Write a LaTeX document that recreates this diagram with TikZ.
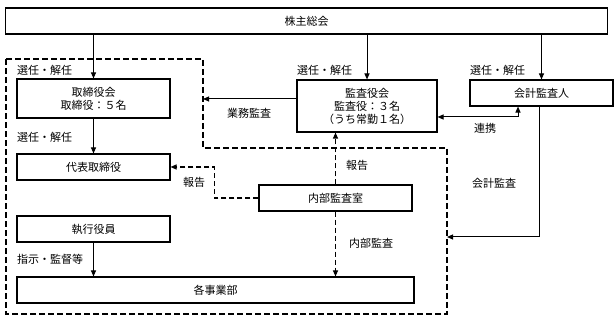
\documentclass[tikz,border=0pt]{standalone}
\usepackage{fontspec}
\setmainfont{Noto Sans CJK JP}
\usetikzlibrary{arrows.meta,positioning,calc}
\newcommand{\jpfont}{\fontsize{11pt}{13pt}\selectfont}
\tikzset{
  >={Triangle[length=6pt,width=5pt]},
  font=\jpfont,
  orgbox/.style={draw, line width=1.1pt, inner sep=0pt, align=center},
  arr/.style={->, line width=1pt},
  darr/.style={->, line width=1.1pt, dash pattern=on 5pt off 3pt},
  lbl/.style={inner sep=0pt},
}

\begin{document}
\begin{tikzpicture}[x=1pt, y=-1pt,
    region/.style={line width=1.8pt, dash pattern=on 6pt off 3pt}
  ]
  \useasboundingbox (0,0) rectangle (616,320);
  % boxes
  \node[orgbox, minimum width=602pt, minimum height=26pt] (soukai) at (306.5,21) {株主総会};
  \node[orgbox, minimum width=153pt, minimum height=39pt] (torikai) at (93.5,98.5) {取締役会\\取締役：５名};
  \node[orgbox, minimum width=153pt, minimum height=26pt] (daihyo) at (93.5,167) {代表取締役};
  \node[orgbox, minimum width=153pt, minimum height=26pt] (shikko) at (93.5,229) {執行役員};
  \node[orgbox, minimum width=397pt, minimum height=26pt] (jigyo) at (215.5,290) {各事業部};
  \node[orgbox, minimum width=153pt, minimum height=26pt] (naibu) at (335.5,198) {内部監査室};
  \node[orgbox, minimum width=140pt, minimum height=52pt] (kansa) at (367,106) {監査役会\\監査役：３名\\（うち常勤１名）};
  \node[orgbox, minimum width=143pt, minimum height=26pt] (kaikei) at (541.5,93) {会計監査人};
  % dashed region (executive side)
  \draw[region] (6,59) -- (203,59) -- (203,148) -- (447,148) -- (447,314) -- (6,314) -- cycle;
  \coordinate (bdL) at (203,99);
  \coordinate (bdR) at (447,237);
  % appointments
  \foreach \b in {torikai,kansa,kaikei}
    \draw[arr] (soukai.south -| \b.north) -- (\b.north);
  \draw[arr] (torikai) -- (daihyo);
  \draw[arr] (shikko.south) -- (shikko.south |- jigyo.north);
  % audits
  \draw[arr] ([yshift=7pt]kansa.west) -- (bdL);
  \draw[arr, <->] ([yshift=-11pt]kansa.east) -| ([xshift=-23.5pt]kaikei.south);
  \draw[arr] ([xshift=-2.5pt]kaikei.south) |- (bdR);
  % internal audit
  \draw[darr] (naibu.north) -- (naibu.north |- kansa.south);
  \draw[darr] (naibu.west) -- ++(-44,0) |- (daihyo.east);
  \draw[darr] (naibu.south) -- (naibu.south |- jigyo.north);
  % labels
  \node[lbl, anchor=west] (selA) at (17,70) {選任・解任};
  \node[lbl, anchor=west] (selB) at (17,137) {選任・解任};
  \node[lbl, anchor=west] (selC) at (297,70) {選任・解任};
  \node[lbl, anchor=west] (selD) at (470,70) {選任・解任};
  \node[lbl] (gyomu) at (249,113) {業務監査};
  \node[lbl] (renkei) at (485,128) {連携};
  \node[lbl] (kkansa) at (494,183) {会計監査};
  \node[lbl] (hokokuA) at (194,182) {報告};
  \node[lbl] (hokokuB) at (357,165) {報告};
  \node[lbl] (nkansa) at (371,243) {内部監査};
  \node[lbl, anchor=west] (shiji) at (17,259) {指示・監督等};
\end{tikzpicture}
\end{document}
